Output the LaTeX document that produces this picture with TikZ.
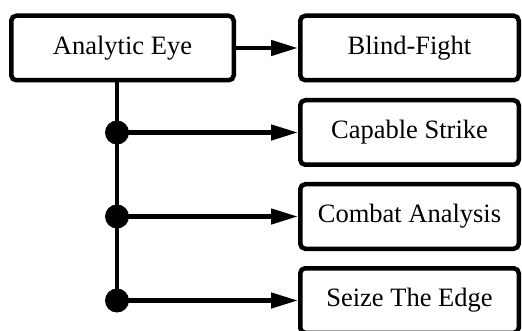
\documentclass[tikz,border=0pt]{standalone}
\usepackage{fontspec}
\setmainfont{Liberation Serif}
\usetikzlibrary{arrows.meta}
\begin{document}
\begin{tikzpicture}[x=1pt,y=-1pt,
 box/.style={draw, line width=4.5pt, rounded corners=5pt, minimum height=64.5pt, font=\fontsize{26.5}{30}\selectfont, inner sep=0pt, anchor=center},
 lbox/.style={box, minimum width=222.5pt},
 rbox/.style={box, minimum width=218.5pt},
 conn/.style={line width=4.5pt, -{Triangle[length=27pt,width=15pt]}},
 trunk/.style={line width=4.5pt},
 dot/.style={circle, fill, inner sep=0pt, minimum size=24pt}]
\useasboundingbox (0,0) rectangle (522,331);
\node[lbox] (a) at (122.5,48) {Analytic Eye};
\node[rbox] (b) at (409.5,48) {Blind-Fight};
\node[rbox] (c) at (409.5,132.5) {Capable Strike};
\node[rbox] (d) at (409.5,216.5) {Combat Analysis};
\node[rbox] (e) at (409.5,300.5) {Seize The Edge};
\node[dot] (d1) at (117,132.5) {};
\node[dot] (d2) at (117,216.5) {};
\node[dot] (d3) at (117,300.5) {};
\draw[trunk] (a.south -| d3) -- (d3.center);
\draw[conn] (a) -- (b);
\draw[conn] (d1.center) -- (c.west);
\draw[conn] (d2.center) -- (d.west);
\draw[conn] (d3.center) -- (e.west);
\end{tikzpicture}
\end{document}
